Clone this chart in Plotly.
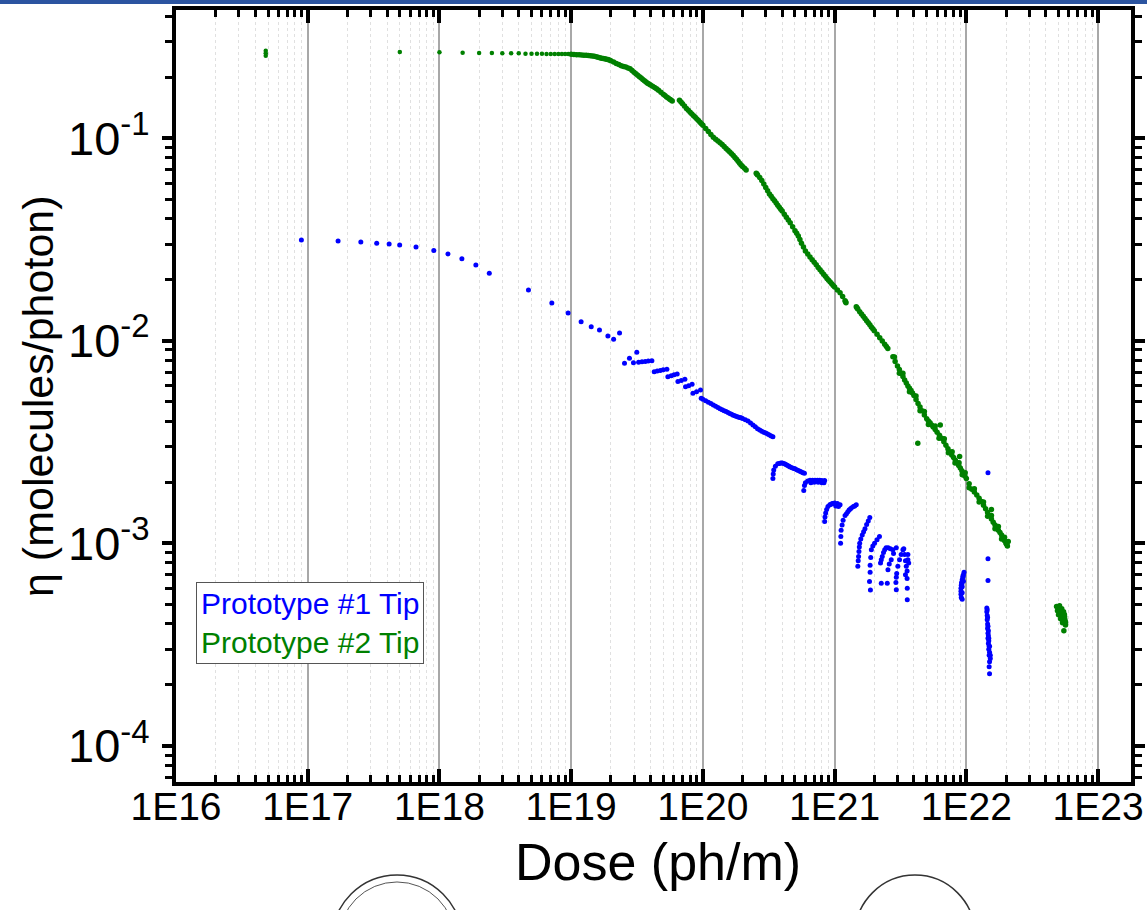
import plotly.graph_objects as go

# ---------------- axis ticks ----------------
x_major = [1e16, 1e17, 1e18, 1e19, 1e20, 1e21, 1e22, 1e23]
x_labels = ["1E16", "1E17", "1E18", "1E19", "1E20", "1E21", "1E22", "1E23"]
y_major = [1e-4, 1e-3, 1e-2, 1e-1]
y_labels = ["10<sup>-4</sup>", "10<sup>-3</sup>", "10<sup>-2</sup>", "10<sup>-1</sup>"]

# ---------------- Prototype #1 Tip (blue) ----------------
b_dose = [
    8.95e16, 1.70e17, 2.53e17, 3.34e17, 4.15e17, 4.99e17, 6.64e17, 9.06e17,
    1.16e18, 1.48e18, 1.89e18, 2.39e18, 4.74e18, 7.13e18, 9.48e18,
    1.19e19, 1.42e19, 1.64e19, 1.90e19, 2.10e19, 2.33e19, 2.54e19, 2.77e19, 2.97e19, 3.15e19,
    3.25e19, 3.45e19, 3.65e19, 3.85e19, 4.10e19,
    4.27e19, 4.50e19, 4.75e19, 5.00e19, 5.33e19,
    5.42e19, 5.75e19, 6.05e19, 6.38e19,
    6.46e19, 6.85e19, 7.30e19,
    7.38e19, 7.80e19, 8.28e19,
    8.40e19, 8.95e19, 9.59e19,
    9.71e19, 1.00e20, 1.05e20, 1.10e20, 1.15e20, 1.20e20, 1.25e20, 1.30e20, 1.35e20, 1.40e20,
    1.45e20, 1.50e20, 1.55e20, 1.60e20, 1.65e20, 1.70e20, 1.75e20, 1.80e20, 1.85e20, 1.90e20,
    1.95e20, 2.00e20, 2.10e20, 2.20e20, 2.30e20, 2.40e20, 2.50e20, 2.60e20, 2.70e20, 2.80e20,
    2.90e20, 3.00e20, 3.10e20, 3.20e20, 3.30e20, 3.40e20,
    3.40e20, 3.42e20, 3.45e20, 3.55e20, 3.70e20, 3.80e20, 3.90e20, 4.00e20, 4.10e20, 4.20e20,
    4.30e20, 4.40e20, 4.50e20, 4.60e20, 4.75e20, 4.90e20, 5.00e20, 5.15e20, 5.30e20, 5.45e20,
    5.60e20, 5.75e20, 5.90e20,
    5.83e20, 5.90e20, 6.00e20, 6.25e20, 6.50e20, 6.80e20, 7.10e20, 7.40e20, 7.70e20, 8.00e20,
    8.40e20, 6.60e20, 7.00e20, 7.50e20, 8.00e20, 8.30e20,
    8.40e20, 8.45e20, 8.55e20, 8.70e20, 8.90e20, 9.20e20, 9.40e20, 9.60e20, 9.80e20, 1.00e21,
    1.02e21, 1.05e21, 1.07e21, 1.10e21,
    1.11e21, 1.115e21, 1.12e21, 1.14e21, 1.16e21, 1.20e21, 1.23e21, 1.26e21, 1.29e21, 1.32e21,
    1.35e21, 1.39e21, 1.42e21, 1.46e21,
    1.50e21, 1.51e21, 1.52e21, 1.53e21, 1.54e21, 1.55e21, 1.58e21, 1.62e21, 1.66e21, 1.70e21,
    1.75e21, 1.80e21, 1.85e21,
    1.84e21, 1.87e21, 1.86e21, 1.86e21, 1.88e21, 1.90e21, 1.95e21, 2.01e21, 2.10e21, 2.19e21,
    2.26e21, 2.23e21, 2.26e21, 2.30e21, 2.35e21, 2.40e21, 2.46e21, 2.55e21, 2.65e21, 2.77e21,
    2.51e21, 2.54e21, 2.60e21, 2.69e21, 2.80e21, 2.94e21,
    2.94e21, 2.92e21, 2.94e21, 2.96e21, 3.02e21, 3.11e21, 3.20e21, 3.30e21,
    3.35e21, 3.40e21, 3.45e21, 3.50e21, 3.55e21, 3.60e21, 3.60e21, 3.65e21, 3.55e21, 3.56e21,
    3.56e21, 3.45e21,
    9.60e21, 9.50e21, 9.40e21, 9.30e21, 9.20e21, 9.15e21, 9.10e21, 9.10e21, 9.10e21, 9.15e21,
    9.30e21, 9.45e21, 9.30e21, 9.50e21, 9.30e21, 9.25e21,
    1.46e22, 1.46e22, 1.46e22,
    1.43e22, 1.43e22, 1.44e22, 1.44e22, 1.45e22, 1.45e22, 1.46e22, 1.47e22, 1.46e22, 1.48e22,
    1.47e22, 1.50e22, 1.48e22, 1.50e22, 1.52e22, 1.49e22, 1.52e22, 1.50e22, 1.49e22, 1.50e22,
    1.44e22, 1.45e22, 1.46e22, 1.47e22, 1.48e22, 1.49e22,
]
b_eta = [
    0.0314, 0.0310, 0.0307, 0.0303, 0.0300, 0.0297, 0.0290, 0.0279,
    0.0268, 0.0254, 0.0236, 0.0215, 0.0178, 0.01535, 0.01371,
    0.01241, 0.01172, 0.0113, 0.01055, 0.01016, 0.0109, 0.00774, 0.00819, 0.00779, 0.00877,
    0.00782, 0.00786, 0.0079, 0.00793, 0.00797,
    0.00703, 0.00708, 0.00713, 0.00718, 0.00723,
    0.00664, 0.00672, 0.00679, 0.00685,
    0.00628, 0.00636, 0.00645,
    0.00593, 0.0060, 0.0061,
    0.00551, 0.0056, 0.00571,
    0.0052, 0.00514, 0.00505, 0.00497, 0.0049, 0.00482, 0.00475, 0.00468, 0.00462, 0.00456,
    0.00451, 0.00447, 0.00442, 0.00437, 0.00433, 0.00429, 0.00426, 0.00423, 0.0042, 0.00418,
    0.00416, 0.00413, 0.00407, 0.00401, 0.00392, 0.00384, 0.00376, 0.00368, 0.00362, 0.00357,
    0.00353, 0.0035, 0.00346, 0.00342, 0.00339, 0.00336,
    0.00209, 0.0022, 0.0023, 0.0024, 0.00247, 0.00248, 0.00249, 0.00249, 0.00248, 0.00246,
    0.00244, 0.00242, 0.0024, 0.00238, 0.00236, 0.00234, 0.00233, 0.00231, 0.00229, 0.00227,
    0.00225, 0.00223, 0.00222,
    0.00182, 0.00193, 0.00199, 0.00203, 0.00205, 0.00205, 0.00205, 0.00205, 0.00205, 0.00204,
    0.00204, 0.00199, 0.0020, 0.0020, 0.00199, 0.00199,
    0.00128, 0.00135, 0.00141, 0.00147, 0.00152, 0.00155, 0.00156, 0.00157, 0.00157, 0.00158,
    0.00153, 0.00157, 0.00152, 0.00155,
    0.0010, 0.00108, 0.00116, 0.00123, 0.0013, 0.00137, 0.0014, 0.00143, 0.00146, 0.00148,
    0.0015, 0.00152, 0.00153, 0.00155,
    0.00077, 0.00082, 0.00086, 0.00091, 0.00096, 0.0010, 0.00105, 0.0011, 0.00114, 0.00118,
    0.00124, 0.00129, 0.00134,
    0.000647, 0.000589, 0.00072, 0.00078, 0.00085, 0.00093, 0.00097, 0.0010, 0.00104, 0.00108,
    0.000636, 0.0008, 0.00083, 0.00086, 0.0009, 0.00093, 0.00095, 0.00095, 0.00094, 0.00093,
    0.000636, 0.00074, 0.00079, 0.00083, 0.00089, 0.00095,
    0.00059, 0.00064, 0.00068, 0.00071, 0.00077, 0.00083, 0.00088, 0.00093,
    0.00094, 0.00088, 0.00082, 0.00077, 0.00073, 0.00083, 0.00088, 0.0008, 0.00067, 0.0006,
    0.000526, 0.0007,
    0.00072, 0.0007, 0.00068, 0.00066, 0.00064, 0.00062, 0.0006, 0.00058, 0.00056, 0.00054,
    0.00053, 0.00069, 0.00061, 0.00065, 0.00057, 0.00063,
    0.00223, 0.000838, 0.000655,
    0.00048, 0.00046, 0.00044, 0.00042, 0.0004, 0.00038, 0.00036, 0.00035, 0.00034, 0.00033,
    0.00032, 0.00031, 0.0003, 0.00029, 0.00028, 0.00028, 0.00027, 0.00026, 0.000246, 0.000227,
    0.00047, 0.00043, 0.00039, 0.00037, 0.00034, 0.00031,
]

# ---------------- Prototype #2 Tip (green) ----------------
# early, sparse readings (plateau)
g_dose_early = [
    4.8e16, 4.8e16, 4.8e16, 5.0e17,
    1.0e18, 1.5e18, 2.0e18, 2.5e18, 3.0e18, 3.5e18, 4.0e18, 4.5e18, 5.0e18, 5.5e18,
    6.0e18, 6.5e18, 7.0e18, 7.5e18, 8.0e18, 8.5e18, 9.0e18, 9.5e18,
]
g_eta_early = [
    0.270, 0.262, 0.255, 0.266,
    0.265, 0.264, 0.263, 0.263, 0.262, 0.262, 0.262, 0.261, 0.261, 0.261,
    0.261, 0.260, 0.260, 0.260, 0.260, 0.260, 0.260, 0.260,
]
# dense readings
g_dose = [
    1.0e19, 1.1e19, 1.2e19, 1.3e19, 1.4e19, 1.5e19, 1.6e19, 1.7e19, 1.8e19, 1.9e19,
    2.0e19, 2.2e19, 2.4e19, 2.6e19, 2.8e19, 3.0e19, 3.2e19, 3.4e19, 3.6e19, 3.8e19,
    4.0e19, 4.3e19, 4.6e19, 5.0e19, 5.3e19, 5.6e19, 5.85e19,
    6.64e19, 7.0e19, 7.5e19, 8.0e19, 8.5e19, 9.0e19, 9.5e19,
    1.0e20, 1.1e20, 1.2e20, 1.3e20, 1.4e20, 1.5e20, 1.6e20, 1.7e20, 1.8e20, 1.9e20,
    2.0e20, 2.13e20,
    2.54e20, 2.6e20, 2.8e20, 3.0e20, 3.2e20, 3.4e20, 3.6e20, 3.8e20,
    4.0e20, 4.3e20, 4.6e20, 5.0e20, 5.3e20, 5.6e20, 6.0e20, 6.5e20, 7.0e20, 7.5e20,
    8.0e20, 8.5e20, 9.0e20, 9.5e20,
    1.0e21, 1.1e21, 1.2e21, 1.22e21,
    1.46e21, 1.5e21, 1.6e21, 1.7e21, 1.8e21, 1.9e21, 2.0e21, 2.2e21, 2.4e21, 2.535e21,
    2.77e21, 3.0e21, 3.2e21, 3.4e21, 3.6e21, 3.8e21, 4.0e21, 4.3e21, 4.6e21, 5.0e21,
    5.3e21, 5.6e21, 6.0e21, 6.5e21, 7.0e21, 7.5e21, 8.0e21, 8.5e21, 9.0e21, 9.5e21,
    1.0e22, 1.1e22, 1.2e22, 1.3e22, 1.4e22, 1.5e22, 1.6e22, 1.7e22, 1.8e22, 1.9e22,
    2.0e22, 2.02e22,
    # in-between readings along the dense curve
    1.05e19, 1.15e19, 1.25e19, 1.35e19, 1.45e19, 1.55e19, 1.65e19, 1.75e19, 1.85e19, 1.95e19,
    2.1e19, 2.3e19, 2.5e19, 2.7e19, 2.9e19, 3.1e19, 3.3e19, 3.5e19, 3.7e19, 3.9e19,
    4.15e19, 4.45e19, 4.8e19, 5.15e19, 5.45e19, 5.72e19,
    6.82e19, 7.25e19, 7.75e19, 8.25e19, 8.75e19, 9.25e19, 9.75e19,
    1.05e20, 1.15e20, 1.25e20, 1.35e20, 1.45e20, 1.55e20, 1.65e20, 1.75e20, 1.85e20, 1.95e20,
    2.07e20, 2.57e20, 2.7e20, 2.9e20, 3.1e20, 3.3e20, 3.5e20, 3.7e20, 3.9e20,
    4.15e20, 4.45e20, 4.8e20, 5.15e20, 5.45e20, 5.8e20, 6.25e20, 6.75e20, 7.25e20, 7.75e20,
    8.25e20, 8.75e20, 9.25e20, 9.75e20,
    1.05e21, 1.15e21, 1.21e21, 1.48e21, 1.55e21, 1.65e21, 1.75e21, 1.85e21, 1.95e21,
    2.1e21, 2.3e21, 2.47e21, 2.88e21, 3.1e21, 3.3e21, 3.5e21, 3.7e21, 3.9e21,
    4.15e21, 4.45e21, 4.8e21, 5.15e21, 5.45e21, 5.8e21, 6.25e21, 6.75e21, 7.25e21, 7.75e21,
    8.25e21, 8.75e21, 9.25e21, 9.75e21,
    1.05e22, 1.15e22, 1.25e22, 1.35e22, 1.45e22, 1.55e22, 1.65e22, 1.75e22, 1.85e22, 1.95e22,
    # scatter on both sides of the lower band
    2.85e21, 3.1e21, 3.3e21, 3.7e21, 4.15e21, 4.45e21, 4.8e21, 5.15e21, 5.8e21, 6.2e21,
    6.8e21, 7.3e21, 7.8e21, 8.2e21, 8.8e21, 9.3e21, 9.8e21, 1.05e22, 1.15e22, 1.25e22,
    1.35e22, 1.45e22, 1.55e22, 1.65e22, 1.75e22, 1.85e22, 1.95e22, 2.05e22, 2.08e22,
    4.28e21, 6.34e21, 8.89e21, 1.55e22,
    # late cluster
    4.84e22, 5.10e22, 4.92e22, 5.19e22, 5.47e22, 5.01e22, 5.28e22, 5.57e22, 5.19e22, 5.47e22,
    5.66e22, 5.37e22, 5.66e22, 5.50e22, 5.00e22, 5.30e22, 5.35e22, 5.10e22, 5.55e22, 5.40e22,
    5.60e22, 5.50e22,
]
g_eta = [
    0.259, 0.258, 0.257, 0.256, 0.255, 0.2535, 0.2506, 0.248, 0.246, 0.244,
    0.241, 0.2335, 0.2275, 0.224, 0.2198, 0.2113, 0.204, 0.1977, 0.192, 0.1866,
    0.1828, 0.1778, 0.1722, 0.1644, 0.1596, 0.1556, 0.1524,
    0.1538, 0.1476, 0.140, 0.134, 0.1288, 0.1242, 0.1197,
    0.1156, 0.1076, 0.1009, 0.0966, 0.0929, 0.0889, 0.0853, 0.0820, 0.0785, 0.0752,
    0.0723, 0.0695,
    0.0670, 0.0658, 0.0618, 0.0570, 0.0530, 0.0502, 0.0478, 0.0455,
    0.0436, 0.0407, 0.0382, 0.0349, 0.0329, 0.0303, 0.0277, 0.0259, 0.0244, 0.0230,
    0.0218, 0.0208, 0.0199, 0.0191,
    0.0184, 0.01726, 0.01574, 0.01538,
    0.01469, 0.01435, 0.01355, 0.01288, 0.01225, 0.01169, 0.01119, 0.01033, 0.00959, 0.00916,
    0.00832, 0.0075, 0.0069, 0.0064, 0.00598, 0.00568, 0.00537, 0.0049, 0.00451, 0.00412,
    0.00393, 0.00375, 0.00353, 0.0033, 0.00305, 0.00282, 0.00265, 0.0025, 0.00235, 0.00222,
    0.00209, 0.00185, 0.00173, 0.00161, 0.00148, 0.00137, 0.00127, 0.0012, 0.00113, 0.00106,
    0.0010, 0.00099,
    0.2585, 0.2575, 0.2565, 0.2555, 0.2543, 0.252, 0.2493, 0.247, 0.245, 0.2425,
    0.2372, 0.2305, 0.2257, 0.222, 0.2155, 0.2077, 0.2008, 0.1948, 0.1893, 0.1847,
    0.1803, 0.175, 0.1683, 0.162, 0.1576, 0.154,
    0.1507, 0.1438, 0.137, 0.1314, 0.1265, 0.122, 0.1176,
    0.1116, 0.1042, 0.0987, 0.0947, 0.0909, 0.0871, 0.0836, 0.0802, 0.0768, 0.0737,
    0.0709, 0.0664, 0.0638, 0.0594, 0.055, 0.0516, 0.049, 0.0466, 0.0445,
    0.0421, 0.0394, 0.0365, 0.0339, 0.0316, 0.029, 0.0268, 0.0251, 0.0237, 0.0224,
    0.0213, 0.0203, 0.0195, 0.0187,
    0.0178, 0.0165, 0.01556, 0.0145, 0.0139, 0.0132, 0.01256, 0.01197, 0.01144,
    0.01076, 0.00996, 0.00937, 0.0079, 0.0072, 0.00665, 0.00619, 0.00583, 0.00552,
    0.00513, 0.0047, 0.0043, 0.00402, 0.00384, 0.00364, 0.00341, 0.00317, 0.00293, 0.00273,
    0.00257, 0.00242, 0.00228, 0.00215,
    0.00197, 0.00179, 0.00167, 0.00154, 0.00142, 0.00132, 0.00123, 0.00116, 0.0011, 0.00103,
    0.0083, 0.0069, 0.0069, 0.0056, 0.00534, 0.00451, 0.00447, 0.00386, 0.00379, 0.0033,
    0.00328, 0.0028, 0.00283, 0.00249, 0.0025, 0.00218, 0.00223, 0.00188, 0.00186, 0.0016,
    0.0016, 0.00136, 0.00137, 0.00118, 0.00121, 0.00105, 0.00107, 0.00097, 0.00102,
    0.00312, 0.00384, 0.00268, 0.00147,
    4.87e-4, 4.92e-4, 4.65e-4, 4.65e-4, 4.59e-4, 4.44e-4, 4.39e-4, 4.34e-4, 4.24e-4, 4.19e-4,
    4.09e-4, 4.05e-4, 3.95e-4, 3.70e-4, 4.80e-4, 4.75e-4, 4.50e-4, 4.55e-4, 4.45e-4, 4.30e-4,
    4.20e-4, 4.10e-4,
]

series_names = ["Prototype #1 Tip", "Prototype #2 Tip"]
series_colors = ["#0000ff", "#008000"]

x_minor = [k * 10.0 ** n for n in range(16, 23) for k in range(2, 10)]
y_minor = [k * 10.0 ** n for n in range(-5, 0) for k in range(2, 10)]

FONT = "Liberation Sans, Arial, sans-serif"

fig = go.Figure()
fig.add_trace(go.Scatter(x=b_dose, y=b_eta, mode="markers", name=series_names[0],
                         marker=dict(color=series_colors[0], size=5, line=dict(width=0))))
fig.add_trace(go.Scatter(x=g_dose_early, y=g_eta_early, mode="markers", name=series_names[1],
                         marker=dict(color=series_colors[1], size=4.5, line=dict(width=0))))
fig.add_trace(go.Scatter(x=g_dose, y=g_eta, mode="markers", name=series_names[1],
                         marker=dict(color=series_colors[1], size=5.5, line=dict(width=0))))

fig.update_layout(
    width=1147, height=910,
    margin=dict(l=176, r=16, t=10, b=128),
    paper_bgcolor="white", plot_bgcolor="white",
    showlegend=False,
    font=dict(family=FONT, color="black"),
)

fig.update_xaxes(
    type="log", range=[16, 23.25], automargin=False,
    tickmode="array", tickvals=x_major, ticktext=x_labels,
    tickfont=dict(size=39, family=FONT, color="black"),
    ticklabelstandoff=-13,
    ticks="inside", ticklen=13, tickwidth=3.5, tickcolor="black",
    showline=True, linewidth=4, linecolor="black", mirror="ticks",
    showgrid=True, gridcolor="#a8a8a8", gridwidth=1.5,
    zeroline=False,
    minor=dict(tickmode="array", tickvals=x_minor, ticks="inside", ticklen=7,
               tickwidth=3, tickcolor="black", showgrid=True, gridcolor="#e0e0e0",
               gridwidth=1, griddash="3px,3px"),
)
fig.update_yaxes(
    type="log", range=[-4.178, -0.368], automargin=False,
    tickmode="array", tickvals=y_major, ticktext=y_labels,
    tickfont=dict(size=47, family=FONT, color="black"),
    ticklabelstandoff=3,
    ticks="outside", ticklen=10, tickwidth=3.5, tickcolor="black",
    showline=True, linewidth=4, linecolor="black", mirror="ticks",
    showgrid=False, zeroline=False,
    minor=dict(tickmode="array", tickvals=y_minor, ticks="outside", ticklen=7,
               tickwidth=3, tickcolor="black", showgrid=False),
)

# axis titles
fig.add_annotation(text="Dose (ph/m)", xref="paper", yref="paper", x=0.505, y=-0.103,
                   xanchor="center", yanchor="middle", showarrow=False,
                   font=dict(size=52, family=FONT, color="black"))
fig.add_annotation(text="η (molecules/photon)", xref="paper", yref="paper", x=-0.1445, y=0.5,
                   xanchor="center", yanchor="middle", showarrow=False, textangle=-90,
                   font=dict(size=43, family=FONT, color="black"))

# legend box
fig.add_annotation(
    text=(f"<span style='color:{series_colors[0]}'>{series_names[0]}</span><br>"
          f"<span style='color:{series_colors[1]}'>{series_names[1]}</span>"),
    xref="paper", yref="paper", x=0.021, y=0.259, xanchor="left", yanchor="top",
    align="left", showarrow=False, bgcolor="white", bordercolor="#555555",
    borderwidth=1, borderpad=4, font=dict(size=30, family=FONT))

# slide header bar
fig.add_shape(type="rect", xref="paper", yref="paper", x0=-0.2, x1=1.05, y0=1.0078, y1=1.03,
              fillcolor="#2b54a0", line=dict(width=0), layer="above")
# partial logos at the slide bottom
fig.add_shape(type="circle", xref="paper", yref="paper", x0=0.1634, x1=0.2995, y0=-0.2889, y1=-0.1205,
              line=dict(color="#333333", width=1.5))
fig.add_shape(type="circle", xref="paper", yref="paper", x0=0.1707, x1=0.2921, y0=-0.2798, y1=-0.1295,
              line=dict(color="#555555", width=1))
fig.add_shape(type="circle", xref="paper", yref="paper", x0=0.711, x1=0.8366, y0=-0.2759, y1=-0.1205,
              line=dict(color="#333333", width=1.5))

fig.write_html("out.html", config={"displayModeBar": False},
               post_script="document.body.style.margin='0';document.body.style.overflow='hidden';")
